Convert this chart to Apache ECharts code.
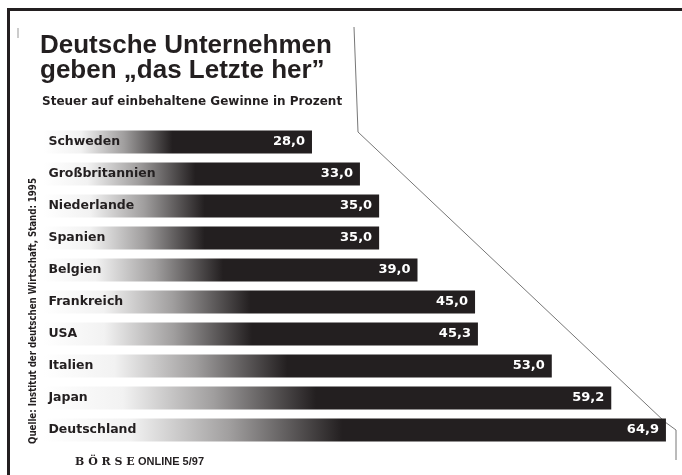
<!DOCTYPE html>
<html><head><meta charset="utf-8">
<script src="https://cdn.jsdelivr.net/npm/echarts@6/dist/echarts.min.js"></script>
<style>html,body{margin:0;padding:0;background:#fff}#c{width:682px;height:475px}</style>
</head><body><div id="c"></div>
<script>
const categories = ['Schweden','Großbritannien','Niederlande','Spanien','Belgien','Frankreich','USA','Italien','Japan','Deutschland'];
const values = [28.0,33.0,35.0,35.0,39.0,45.0,45.3,53.0,59.2,64.9];
const titleLines = ['Deutsche Unternehmen','geben „das Letzte her”'];
const subtitle = 'Steuer auf einbehaltene Gewinne in Prozent';
const source = 'Quelle: Institut der deutschen Wirtschaft, Stand: 1995';

const dark = '#231f20';
const chart = echarts.init(document.getElementById('c'));
chart.setOption({
  backgroundColor: '#fff',
  animation: false,
  title: [
    {text: titleLines.join('\n'), left: 40, top: 33, padding: 0,
     textStyle: {fontFamily: 'Liberation Sans', fontWeight: 'bold', fontSize: 26, lineHeight: 25, color: dark}},
    {text: subtitle, left: 42, top: 96, padding: 0,
     textStyle: {fontFamily: 'DejaVu Sans', fontWeight: 'bold', fontSize: 12, color: dark}}
  ],
  grid: {left: 43.4, right: 15.1, top: 126, bottom: 29, containLabel: false},
  xAxis: {type: 'value', min: 0, max: 65, show: false},
  yAxis: {type: 'category', data: categories, inverse: true,
    axisLine: {show: false}, axisTick: {show: false},
    axisLabel: {inside: true, margin: 5, color: dark, fontFamily: 'DejaVu Sans', fontWeight: 'bold', fontSize: 12.5},
    z: 5},
  series: [{
    type: 'bar', data: values, barWidth: 23,
    itemStyle: {color: new echarts.graphic.LinearGradient(0,0,1,0,[
      {offset: 0, color: '#ffffff'},
      {offset: 0.14, color: '#f2f2f2'},
      {offset: 0.3, color: '#a09e9e'},
      {offset: 0.48, color: dark},
      {offset: 1, color: dark}])},
    label: {show: true, position: 'insideRight', distance: 7, color: '#fff',
      fontFamily: 'DejaVu Sans', fontWeight: 'bold', fontSize: 13,
      formatter: p => p.value.toFixed(1).replace('.', ',')}
  }],
  graphic: [
    {type: 'rect', shape: {x: 8, y: 8, width: 674, height: 3}, style: {fill: dark}},
    {type: 'rect', shape: {x: 7, y: 8, width: 3, height: 467}, style: {fill: dark}},
    {type: 'polyline', shape: {points: [[354,27],[358,132],[665,422],[676,430],[676,460]]},
     style: {stroke: '#777', lineWidth: 1, fill: null}},
    {type: 'line', shape: {x1: 18, y1: 28, x2: 18, y2: 38}, style: {stroke: '#999', lineWidth: 1}},
    {type: 'text', x: 33, y: 311, rotation: Math.PI/2,
     style: {text: source, align: 'center', verticalAlign: 'middle', fill: dark,
       font: 'bold 9.6px "DejaVu Sans Condensed", "DejaVu Sans"'}},
    {type: 'text', x: 75, y: 462,
     style: {text: '{a|B Ö R S E} {b|ONLINE 5/97}', verticalAlign: 'middle',
       rich: {a: {fontFamily: 'DejaVu Serif', fontWeight: 'bold', fontSize: 11, fill: dark, color: dark},
              b: {fontFamily: 'Liberation Sans', fontWeight: 'bold', fontSize: 11, fill: dark, color: dark}}}}
  ]
});
</script></body></html>
